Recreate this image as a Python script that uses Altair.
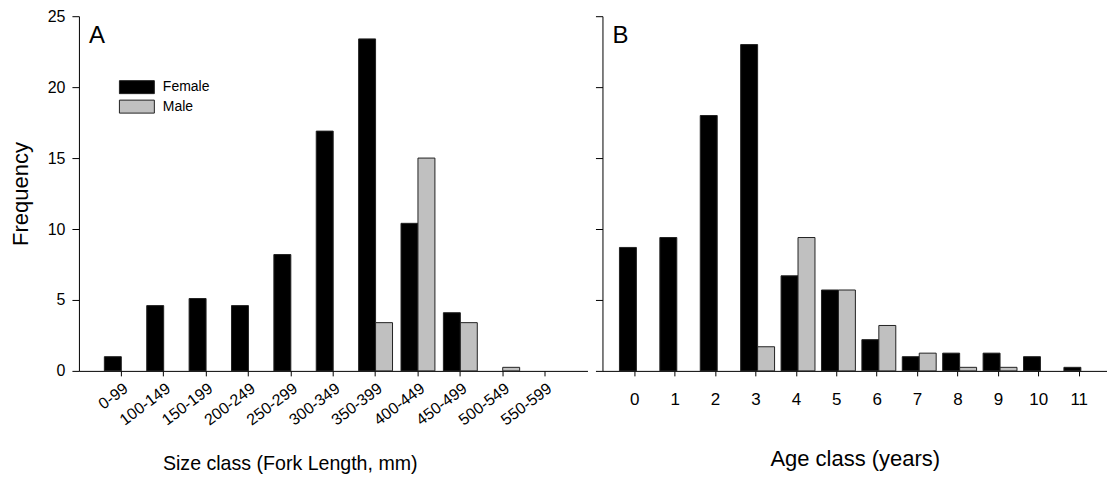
import altair as alt
import pandas as pd

# ---- data ----
size_classes = ["0-99", "100-149", "150-199", "200-249", "250-299", "300-349",
                "350-399", "400-449", "450-499", "500-549", "550-599"]
size_female = [1.0, 4.6, 5.1, 4.6, 8.2, 16.9, 23.4, 10.4, 4.1, 0.0, 0.0]
size_male = [0.0, 0.0, 0.0, 0.0, 0.0, 0.0, 3.4, 15.0, 3.4, 0.25, 0.0]

age_classes = ["0", "1", "2", "3", "4", "5", "6", "7", "8", "9", "10", "11"]
age_female = [8.7, 9.4, 18.0, 23.0, 6.7, 5.7, 2.2, 1.0, 1.25, 1.25, 1.0, 0.25]
age_male = [0.0, 0.0, 0.0, 1.7, 9.4, 5.7, 3.2, 1.25, 0.25, 0.25, 0.0, 0.0]

sexes = ["Female", "Male"]
sex_colors = ["#000000", "#c0c0c0"]
y_ticks = [0, 5, 10, 15, 20, 25]


def long_df(classes, female, male):
    rows = []
    for c, f, m in zip(classes, female, male):
        if f > 0:
            rows.append({"cls": c, "sex": "Female", "freq": f})
        if m > 0:
            rows.append({"cls": c, "sex": "Male", "freq": m})
    return pd.DataFrame(rows)


df_a = long_df(size_classes, size_female, size_male)
df_b = long_df(age_classes, age_female, age_male)

FONT = "Liberation Sans"
color_scale = alt.Scale(domain=sexes, range=sex_colors)
y_scale = alt.Scale(domain=[0, 25], nice=False)
offset = alt.XOffset("sex:N", scale=alt.Scale(domain=sexes, paddingInner=0, paddingOuter=0))

bars_a = alt.Chart(df_a).mark_bar(stroke="#222222", strokeWidth=1).encode(
    x=alt.X("cls:N", sort=size_classes,
            scale=alt.Scale(domain=size_classes, paddingInner=0.2, paddingOuter=0.6),
            axis=alt.Axis(title="Size class (Fork Length, mm)", labelAngle=-37,
                          labelFontSize=16, labelPadding=4, tickSize=5,
                          titleFontSize=19.6, titleX=211, titleY=99,
                          titleBaseline="alphabetic", titleFontWeight="normal")),
    xOffset=offset,
    y=alt.Y("freq:Q", scale=y_scale,
            axis=alt.Axis(values=y_ticks, title="Frequency", tickSize=7,
                          labelFontSize=16, labelPadding=7, titleFontSize=22,
                          titlePadding=15, titleFontWeight="normal", grid=False)),
    color=alt.Color("sex:N", scale=color_scale,
                    legend=alt.Legend(title=None, orient="none", legendX=51, legendY=64,
                                      symbolType="M-2.69,-1H2.69V1H-2.69Z", symbolSize=169,
                                      symbolStrokeColor="#222222", symbolStrokeWidth=1,
                                      labelFontSize=14, labelOffset=19, rowPadding=1.5,
                                      padding=0, labelFont=FONT)),
)

lab_a = alt.Chart(pd.DataFrame({"t": ["A"]})).mark_text(
    align="left", baseline="alphabetic", fontSize=24, font=FONT, color="black"
).encode(text="t:N", x=alt.value(10), y=alt.value(27))

left = alt.layer(bars_a, lab_a).properties(width=509, height=355)

bars_b = alt.Chart(df_b).mark_bar(stroke="#222222", strokeWidth=1).encode(
    x=alt.X("cls:N", sort=age_classes,
            scale=alt.Scale(domain=age_classes, paddingInner=0.243, paddingOuter=0.365, align=0.576),
            axis=alt.Axis(title="Age class (years)", labelAngle=0, labelFontSize=17,
                          labelPadding=16, tickSize=5, titleFontSize=22, titleY=95,
                          titleBaseline="alphabetic", titleFontWeight="normal")),
    xOffset=offset,
    y=alt.Y("freq:Q", scale=y_scale,
            axis=alt.Axis(values=y_ticks, title=None, labels=False, tickSize=7, grid=False)),
    color=alt.Color("sex:N", scale=color_scale, legend=None),
)

lab_b = alt.Chart(pd.DataFrame({"t": ["B"]})).mark_text(
    align="left", baseline="alphabetic", fontSize=24, font=FONT, color="black"
).encode(text="t:N", x=alt.value(10), y=alt.value(27))

right = alt.layer(bars_b, lab_b).properties(width=505, height=355)

chart = alt.hconcat(left, right, spacing=7).resolve_scale(
    color="independent", y="independent", x="independent"
).properties(
    padding={"left": 9, "top": 8, "right": 0, "bottom": 0}
).configure(font=FONT).configure_view(stroke=None).configure_axis(
    domainColor="black", tickColor="black", labelColor="black", titleColor="black",
    labelFont=FONT, titleFont=FONT, domainWidth=1, tickWidth=1
)

chart.save("out.html", embed_options={"renderer": "svg", "actions": False})
